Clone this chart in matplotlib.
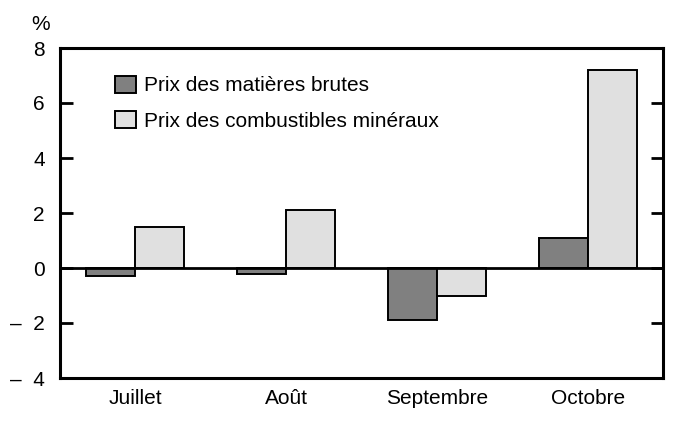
import numpy as np
import matplotlib
matplotlib.use("Agg")
import matplotlib.pyplot as plt

plt.rcParams['font.family'] = ['Liberation Sans', 'DejaVu Sans']

months = ["Juillet", "Août", "Septembre", "Octobre"]
brutes = [-0.3, -0.2, -1.9, 1.1]
combustibles = [1.5, 2.1, -1.0, 7.2]
yticks = [-4, -2, 0, 2, 4, 6, 8]
ytick_labels = ["\u2013  4", "\u2013  2", "0", "2", "4", "6", "8"]

fig = plt.figure(figsize=(6.84, 4.23), dpi=100)
ax = fig.add_axes([60/684, 1 - 378/423, 603/684, 330/423])

x = np.arange(len(months))
w = 0.325
ax.bar(x - w/2, brutes, w, color="#808080", edgecolor="black", linewidth=1.4,
       label="Prix des matières brutes", zorder=2)
ax.bar(x + w/2, combustibles, w, color="#e0e0e0", edgecolor="black", linewidth=1.4,
       label="Prix des combustibles minéraux", zorder=2)
ax.axhline(0, color="black", linewidth=2, zorder=3)

ax.set_xlim(-0.5, 3.5)
ax.set_ylim(-4, 8)
ax.set_xticks(x)
ax.set_xticklabels(months, fontsize=15)
ax.set_yticks(yticks)
ax.set_yticklabels(ytick_labels, fontsize=15)
ax.tick_params(axis="x", length=0, pad=8)
ax.tick_params(axis="y", direction="in", length=9, width=2, right=True, pad=11)
for s in ax.spines.values():
    s.set_linewidth(2.2)

ax.legend(loc="upper left", bbox_to_anchor=(0.07, 0.954), frameon=False, fontsize=15,
          handlelength=1.0, handleheight=0.88, labelspacing=0.75, handletextpad=0.4,
          borderaxespad=0.2)

fig.text(41/684, 1 - 24/423, "%", fontsize=15, ha="center", va="center")

fig.savefig("out.png", dpi=100)
